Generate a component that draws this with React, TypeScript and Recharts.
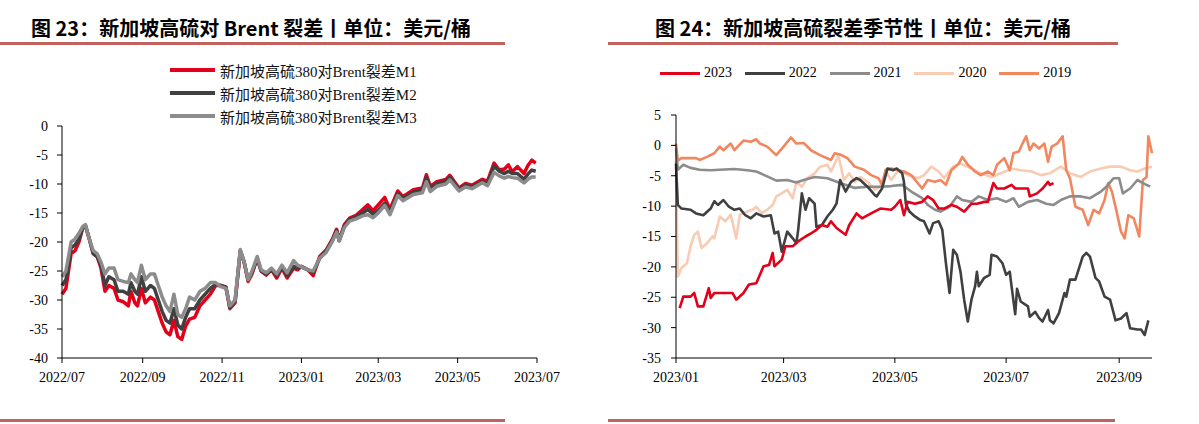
import { LineChart, Line, XAxis, YAxis } from 'recharts';

const DAY = 86400000;

// ---- left chart: 新加坡高硫380对Brent裂差 (days since 2022-07-01)
const leftBase = '2022-07-01';
const leftEnd = '2023-07-01';
const leftTicks = ['2022-07-01', '2022-09-01', '2022-11-01', '2023-01-01', '2023-03-01', '2023-05-01', '2023-07-01'];
const leftYTicks = [-40, -35, -30, -25, -20, -15, -10, -5, 0];

const leftDays = [
  0, 3, 5, 7, 10, 13, 16, 18, 21, 24,
  27, 30, 33, 36, 40, 43, 47, 51, 53, 56,
  58, 61, 64, 68, 71, 74, 77, 80, 83, 86,
  89, 92, 95, 98, 102, 106, 110, 114, 118, 122,
  126, 129, 133, 137, 140, 143, 146, 150, 153, 157,
  161, 165, 169, 173, 178, 181, 184, 189, 193, 198,
  203, 208, 211, 213, 217, 221, 226, 231, 235, 239,
  243, 248, 252, 258, 262, 270, 277, 280, 283, 288,
  295, 298, 305, 310, 315, 323, 327, 332, 336, 340,
  343, 346, 350, 355, 358, 361, 364,
];

const m1 = [
  -29, -28, -25, -22, -21.5, -20, -17.5, -17.2, -19.5, -22,
  -22.5, -24.5, -28.5, -27.5, -28, -30, -30.3, -31, -28.5, -30.5,
  -31, -28, -30.5, -29.5, -30, -32, -34, -35.5, -36, -33.5,
  -36.3, -36.8, -34.5, -33.3, -33, -31, -30, -29, -27.5, -27.5,
  -27.8, -31.5, -30.5, -21.5, -23.5, -26.8, -25.5, -22.8, -25, -25.7,
  -24.8, -26.2, -24.5, -26.2, -24.5, -24.8, -24.2, -24.8, -25.8, -22.5,
  -21.4, -19.4, -17.8, -19.7, -17, -15.9, -15.4, -14.4, -13.6, -14.6,
  -13.6, -12.3, -14.4, -11.2, -12.2, -11, -10.7, -8.4, -10.4, -9.6,
  -9.2, -8.5, -10.7, -9.9, -10.2, -9.2, -9.5, -6.4, -7.6, -7.4,
  -6.7, -7.9, -7, -8.2, -6.8, -5.9, -6.4,
];

const m2 = [
  -27.5, -26.5, -24, -21, -20.5, -19.5, -17.5, -17.1, -19.5, -22,
  -22.5, -24, -27.5, -26, -26.5, -28.5, -28.5, -29, -27, -28.5,
  -29, -26, -28.5, -27.5, -28, -30, -32, -33.5, -34, -31.5,
  -34.3, -35, -33, -31.5, -31.5, -30, -29, -28, -27.3, -27.5,
  -27.8, -31.3, -30.2, -21.5, -23.5, -26.5, -25.3, -22.8, -25, -25.5,
  -24.8, -25.8, -24.3, -25.8, -24.2, -24.5, -24.3, -24.8, -25.3, -22.8,
  -21.5, -19.6, -18, -19.8, -17.2, -16.1, -15.7, -15, -14.4, -15.2,
  -14.5, -13.3, -14.8, -11.7, -12.5, -11.4, -11, -8.9, -10.8, -9.9,
  -9.6, -8.8, -11, -10.2, -10.5, -9.6, -9.9, -6.9, -7.8, -8.2,
  -7.8, -8.2, -8.2, -9.2, -8.3, -7.6, -7.8,
];

const m3 = [
  -26, -25, -22.5, -20, -19.5, -18.5, -17.3, -17, -19.5, -21.5,
  -22, -23.5, -25.5, -24.5, -24.5, -26.5, -26.8, -27, -25.5, -26.5,
  -27, -24, -26.5, -25.5, -25.5, -27.5, -29.5, -31, -32, -29,
  -32.5, -33, -31.5, -29.5, -30, -28.5, -28, -27, -27, -27.7,
  -28, -31, -30, -21.3, -23.5, -26.5, -25, -22.5, -24.8, -25.3,
  -24.5, -25.5, -24, -25.3, -23.2, -24, -24.3, -24.8, -25, -22.8,
  -21.8, -19.8, -18.3, -19.8, -17.5, -16.4, -16, -15.5, -15.3, -15.8,
  -15, -13.7, -15.3, -12, -12.9, -11.8, -11.5, -9.6, -11.3, -10.4,
  -10, -9.3, -11.2, -10.5, -10.8, -9.8, -10.3, -8, -8.6, -9,
  -8.7, -8.9, -9, -9.8, -9.2, -8.8, -8.8,
];

const leftSeries = [
  { key: 'm1', name: '新加坡高硫380对Brent裂差M1', color: '#E2001A' },
  { key: 'm2', name: '新加坡高硫380对Brent裂差M2', color: '#404040' },
  { key: 'm3', name: '新加坡高硫380对Brent裂差M3', color: '#8C8C8C' },
];

// ---- right chart: 季节性 ([day of year, value], day 0 = 01-01)
const rightBase = '2023-01-01';
const rightEnd = '2023-09-19';
const rightTicks = ['2023-01-01', '2023-03-01', '2023-05-01', '2023-07-01', '2023-09-01'];
const rightYTicks = [-35, -30, -25, -20, -15, -10, -5, 0, 5];

const s2023: [number, number][] = [
  [2, -26.8], [4, -24.9], [8, -24.9], [10, -24.3], [12, -26.5], [15, -26.5], [18, -23.5], [19, -25.1],
  [21, -24.3], [26, -24.3], [31, -24.3], [33, -25.4], [37, -24.3], [40, -22.9], [44, -22.7], [48, -19.9],
  [51, -19.7], [53, -17.7], [54, -19.9], [58, -18.8], [60, -16.6], [64, -16.6], [67, -15.8], [71, -15.0],
  [74, -14.5], [77, -13.9], [80, -13.1], [83, -13.4], [85, -12.5], [88, -13.6], [93, -14.7], [95, -13.1],
  [99, -11.2], [102, -12.0], [107, -11.2], [112, -10.4], [118, -10.6], [120, -10.1], [123, -9.0], [125, -11.5],
  [127, -9.3], [131, -9.6], [135, -9.3], [138, -8.4], [141, -9.0], [144, -10.4], [147, -10.4], [151, -9.8],
  [154, -10.1], [158, -10.9], [162, -9.6], [165, -9.6], [169, -9.3], [171, -9.3], [174, -6.2], [176, -7.1],
  [180, -7.1], [184, -6.5], [186, -7.1], [190, -7.1], [193, -7.1], [194, -8.4], [198, -7.9], [201, -7.1],
  [204, -6.0], [205, -6.5], [207, -6.2],
];

const s2022: [number, number][] = [
  [0, -3], [1, -9.8], [3, -10.4], [8, -10.6], [11, -11.2], [15, -11.5], [19, -10.4], [21, -9.2],
  [23, -9.8], [26, -9.0], [29, -10.1], [32, -10.6], [35, -10.4], [38, -11.5], [41, -12.0], [44, -11.2],
  [48, -11.7], [52, -11.5], [54, -14.5], [56, -14.2], [58, -17.5], [61, -14.2], [64, -15.3], [66, -16.1],
  [67, -13.9], [69, -7.9], [71, -10.6], [73, -8.7], [76, -9.6], [77, -13.4], [80, -13.1], [83, -11.7],
  [86, -10.6], [88, -9.6], [90, -5.7], [93, -7.6], [96, -6.0], [99, -5.4], [101, -5.7], [105, -6.8],
  [109, -8.2], [110, -8.4], [113, -7.1], [116, -3.8], [119, -4.1], [121, -3.8], [124, -4.6], [125, -6.0],
  [126, -9.6], [128, -10.9], [131, -11.7], [134, -12.3], [136, -12.5], [139, -14.5], [141, -12.8], [144, -12.5],
  [146, -13.9], [148, -19.4], [150, -24.3], [152, -17.2], [154, -18.0], [156, -20.8], [158, -25.4], [160, -29.0],
  [162, -25.4], [164, -23.2], [165, -20.8], [166, -23.2], [169, -21.8], [172, -21.3], [173, -18.0], [176, -18.3],
  [179, -19.4], [181, -21.3], [183, -20.8], [184, -23.2], [186, -27.8], [187, -23.6], [189, -25.7], [193, -26.5],
  [194, -28.2], [197, -27.4], [199, -28.4], [201, -29.0], [204, -27.1], [205, -28.8], [207, -29.3], [210, -27.6],
  [213, -24.3], [214, -24.9], [216, -22.1], [219, -22.1], [223, -18.3], [225, -17.7], [227, -18.3], [230, -21.8],
  [232, -22.4], [235, -24.9], [238, -25.4], [241, -28.8], [244, -28.5], [247, -27.6], [249, -30.1], [253, -30.3],
  [255, -30.3], [257, -31.2], [259, -28.8],
];

const s2021: [number, number][] = [
  [0, -0.5], [1, -4.0], [4, -3.2], [8, -3.7], [13, -4.0], [19, -4.1], [24, -4.0], [32, -3.9],
  [39, -4.1], [44, -4.3], [50, -5.1], [55, -5.8], [61, -5.7], [66, -6.1], [70, -5.7], [76, -5.2],
  [83, -5.4], [90, -6.2], [98, -7.0], [105, -6.8], [112, -6.8], [118, -6.7], [124, -6.5], [129, -7.6],
  [135, -8.7], [138, -9.8], [142, -10.6], [145, -10.9], [150, -10.1], [154, -8.4], [157, -9.0], [162, -9.3],
  [166, -8.4], [171, -9.0], [176, -8.7], [181, -9.3], [185, -8.7], [188, -10.1], [193, -9.3], [198, -9.0],
  [203, -9.6], [207, -9.8], [211, -9.0], [216, -8.4], [222, -8.4], [227, -8.7], [233, -7.6], [236, -6.8],
  [240, -5.4], [243, -5.4], [245, -7.9], [249, -7.1], [253, -5.7], [256, -6.2], [260, -6.8],
];

const s2020: [number, number][] = [
  [0, -2.5], [1, -21.6], [3, -20.2], [6, -19.4], [8, -16.6], [10, -14.7], [12, -14.2], [14, -16.9],
  [17, -16.1], [20, -15.0], [21, -15.3], [24, -11.7], [27, -12.5], [30, -11.4], [33, -15.3], [35, -11.4],
  [39, -10.9], [42, -10.6], [44, -10.1], [47, -11.2], [50, -10.6], [53, -9.8], [55, -8.4], [58, -7.9],
  [61, -7.3], [64, -8.7], [66, -6.0], [69, -6.8], [72, -5.4], [76, -4.6], [79, -3.5], [83, -3.2],
  [85, -4.3], [88, -2.4], [89, -1.6], [92, -5.7], [95, -4.6], [98, -6.0], [101, -5.2], [105, -6.0],
  [109, -7.3], [112, -6.8], [115, -4.3], [118, -5.7], [122, -4.1], [127, -4.9], [133, -5.4], [136, -4.9],
  [140, -3.5], [144, -4.3], [147, -5.4], [152, -3.5], [156, -3.0], [162, -3.8], [167, -4.6], [173, -5.2],
  [178, -4.6], [184, -3.8], [189, -4.1], [195, -4.3], [200, -4.9], [205, -4.6], [211, -3.5], [216, -4.6],
  [222, -5.2], [227, -4.3], [233, -3.8], [238, -3.5], [244, -3.5], [249, -4.1], [253, -4.3], [257, -3.8],
  [261, -3.5],
];

const s2019: [number, number][] = [
  [0, 0.3], [1, -2.5], [3, -2.1], [8, -2.1], [11, -2.1], [13, -2.4], [17, -1.9], [21, -1.3],
  [24, -0.2], [26, -0.8], [30, 0.3], [32, -0.8], [37, 0.8], [41, 0.6], [44, 1.0], [46, 0.3],
  [50, -0.2], [55, -1.6], [59, -0.2], [63, 1.3], [66, 0.3], [70, 0.4], [74, -0.8], [79, -1.6],
  [85, -2.4], [87, -1.3], [90, -1.5], [94, -2.1], [98, -3.5], [103, -4.0], [107, -4.9], [111, -5.4],
  [113, -6.5], [115, -4.0], [118, -3.8], [122, -4.1], [125, -4.3], [129, -4.9], [135, -7.1], [138, -5.7],
  [142, -6.0], [145, -5.7], [148, -6.5], [151, -4.1], [155, -3.0], [157, -1.9], [160, -3.2], [164, -4.3],
  [167, -4.9], [171, -4.3], [174, -4.9], [176, -3.2], [180, -2.1], [183, -4.1], [185, -1.3], [188, -1.0],
  [190, 0.3], [192, 1.5], [194, -0.8], [196, 0.3], [199, -0.5], [202, 0.3], [204, -2.7], [206, -0.2],
  [209, 0.3], [212, 1.5], [214, -4.1], [216, -5.4], [219, -10.1], [223, -10.6], [226, -13.1], [229, -10.6],
  [232, -11.2], [235, -9.0], [237, -6.2], [239, -7.6], [241, -10.1], [244, -14.2], [246, -15.3], [248, -11.5],
  [251, -12.0], [254, -15.0], [256, -5.7], [258, -5.2], [259, 1.5], [261, -1.3],
];

const rightSeries = [
  { name: '2023', data: s2023, color: '#E2001A' },
  { name: '2022', data: s2022, color: '#404040' },
  { name: '2021', data: s2021, color: '#8C8C8C' },
  { name: '2020', data: s2020, color: '#F8CBB2' },
  { name: '2019', data: s2019, color: '#F0875F' },
];
// drawing order (last on top)
const rightDrawOrder = ['2020', '2019', '2021', '2022', '2023'];

const toTs = (s: string) => Date.parse(s);
const fmtMonth = (t: number) => {
  const d = new Date(t);
  return `${d.getUTCFullYear()}/${String(d.getUTCMonth() + 1).padStart(2, '0')}`;
};

const leftRows = leftDays.map((d, i) => ({
  t: toTs(leftBase) + d * DAY,
  m1: m1[i],
  m2: m2[i],
  m3: m3[i],
}));

const serif = "'Liberation Serif', 'Times New Roman', serif";
const cjkSerif = "'Liberation Serif', 'Noto Sans CJK SC', serif";
const tickStyle = { fill: '#000', fontSize: 14, fontFamily: serif };
const ruleColor = '#C2625E';

function Title({ text, left, width }: { text: string; left: number; width: number }) {
  return (
    <div
      style={{
        position: 'absolute',
        left,
        top: 17,
        width,
        textAlign: 'center',
        fontFamily: "'Noto Sans CJK SC', sans-serif",
        fontWeight: 700,
        fontSize: 20,
        lineHeight: '22px',
        color: '#000',
        whiteSpace: 'nowrap',
      }}
    >
      {text}
    </div>
  );
}

function Rule({ left, width, top }: { left: number; width: number; top: number }) {
  return <div style={{ position: 'absolute', left, top, width, height: 3, background: ruleColor }} />;
}

function LeftChart() {
  return (
    <div style={{ position: 'absolute', left: 0, top: 0 }}>
      <LineChart width={560} height={424} data={leftRows} margin={{ top: 126, right: 23, bottom: 36, left: 0 }}>
        <XAxis
          dataKey="t"
          type="number"
          domain={[toTs(leftBase), toTs(leftEnd)]}
          ticks={leftTicks.map(toTs)}
          tickFormatter={fmtMonth}
          tickSize={5}
          tickMargin={9}
          height={30}
          axisLine={{ stroke: '#000' }}
          tickLine={{ stroke: '#000' }}
          tick={tickStyle}
          interval={0}
        />
        <YAxis
          domain={[-40, 0]}
          ticks={leftYTicks}
          width={62}
          tickSize={5}
          tickMargin={9}
          axisLine={{ stroke: '#000' }}
          tickLine={{ stroke: '#000' }}
          tick={tickStyle}
          interval={0}
        />
        {leftSeries.map((s) => (
          <Line
            key={s.key}
            dataKey={s.key}
            type="linear"
            stroke={s.color}
            strokeWidth={3.5}
            strokeLinejoin="round"
            dot={false}
            isAnimationActive={false}
          />
        ))}
      </LineChart>
      {leftSeries.map((s, i) => (
        <div
          key={s.key}
          style={{
            position: 'absolute',
            left: 170,
            top: 60 + i * 23,
            height: 20,
            display: 'flex',
            alignItems: 'center',
            whiteSpace: 'nowrap',
          }}
        >
          <span style={{ display: 'inline-block', width: 45, height: 4, background: s.color }} />
          <span style={{ marginLeft: 5, fontFamily: cjkSerif, fontSize: 15, color: '#111' }}>{s.name}</span>
        </div>
      ))}
    </div>
  );
}

function RightChart() {
  const base = toTs(rightBase);
  const ordered = rightDrawOrder.map((n) => rightSeries.find((s) => s.name === n)!);
  return (
    <div style={{ position: 'absolute', left: 600, top: 0 }}>
      <LineChart width={575} height={424} margin={{ top: 115, right: 23, bottom: 36, left: 0 }}>
        <XAxis
          dataKey="t"
          type="number"
          domain={[base, toTs(rightEnd)]}
          ticks={rightTicks.map(toTs)}
          tickFormatter={fmtMonth}
          tickSize={5}
          tickMargin={9}
          height={30}
          axisLine={{ stroke: '#000' }}
          tickLine={{ stroke: '#000' }}
          tick={tickStyle}
          interval={0}
          allowDuplicatedCategory={false}
        />
        <YAxis
          domain={[-35, 5]}
          ticks={rightYTicks}
          width={76}
          tickSize={5}
          tickMargin={10}
          axisLine={{ stroke: '#000' }}
          tickLine={{ stroke: '#000' }}
          tick={tickStyle}
          interval={0}
        />
        {ordered.map((s) => (
          <Line
            key={s.name}
            data={s.data.map(([d, v]) => ({ t: base + d * DAY, v }))}
            dataKey="v"
            name={s.name}
            type="linear"
            stroke={s.color}
            strokeWidth={2.6}
            strokeLinejoin="round"
            dot={false}
            isAnimationActive={false}
          />
        ))}
      </LineChart>
      {rightSeries.map((s, i) => (
        <div
          key={s.name}
          style={{
            position: 'absolute',
            left: 60 + i * 84.8,
            top: 63,
            height: 20,
            display: 'flex',
            alignItems: 'center',
            whiteSpace: 'nowrap',
          }}
        >
          <span style={{ display: 'inline-block', width: 40, height: 3, background: s.color }} />
          <span style={{ marginLeft: 4, fontFamily: serif, fontSize: 14, color: '#000' }}>{s.name}</span>
        </div>
      ))}
    </div>
  );
}

export default function App() {
  return (
    <div
      style={{
        position: 'absolute',
        left: 0,
        top: 0,
        width: 1199,
        height: 424,
        background: '#fff',
        overflow: 'hidden',
      }}
    >
      <Title text="图 23：新加坡高硫对 Brent 裂差丨单位：美元/桶" left={0} width={502} />
      <Title text="图 24：新加坡高硫裂差季节性丨单位：美元/桶" left={608} width={510} />
      <Rule left={0} width={505} top={42} />
      <Rule left={608} width={510} top={42} />
      <LeftChart />
      <RightChart />
      <Rule left={0} width={505} top={419} />
      <Rule left={608} width={507} top={419} />
    </div>
  );
}
